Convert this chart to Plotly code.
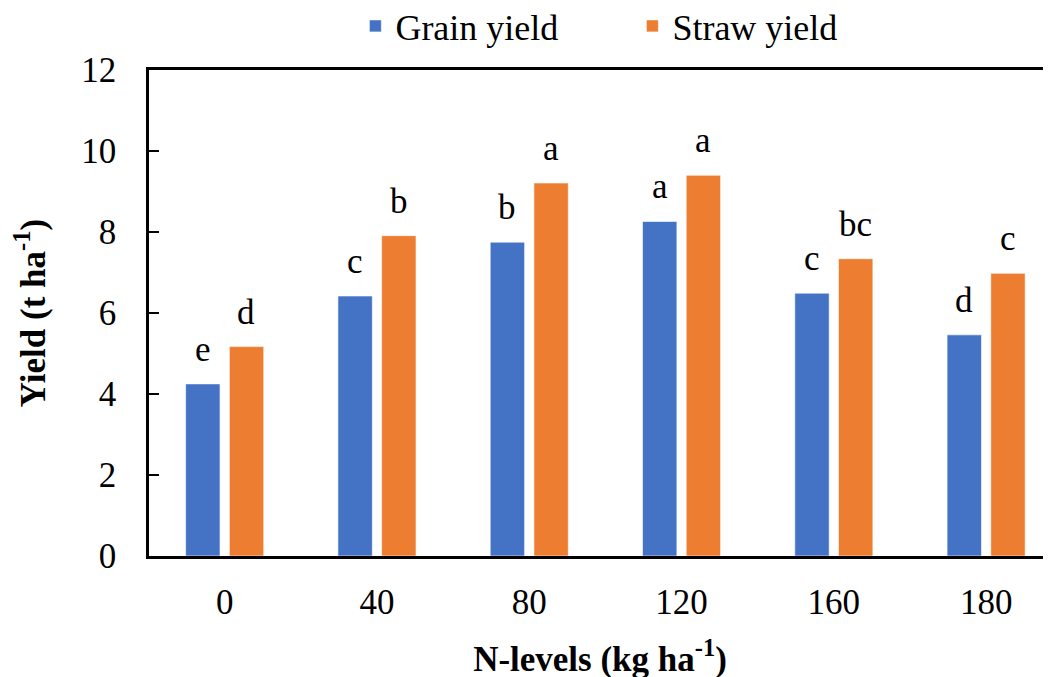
import plotly.graph_objects as go

n_levels = ["0", "40", "80", "120", "160", "180"]
grain_yield = [4.25, 6.42, 7.75, 8.26, 6.49, 5.46]
straw_yield = [5.17, 7.91, 9.21, 9.40, 7.34, 6.98]
grain_letters = ["e", "c", "b", "a", "c", "d"]
straw_letters = ["d", "b", "a", "a", "bc", "c"]
y_ticks = [0, 2, 4, 6, 8, 10, 12]

FONT = "Liberation Serif, Times New Roman, serif"
FS = 35
BLUE = "#4472C4"
ORANGE = "#ED7D31"

fig = go.Figure()
fig.add_trace(go.Bar(x=n_levels, y=grain_yield, name="Grain yield",
                     marker=dict(color=BLUE, line=dict(color="rgba(255,255,255,0.6)", width=1))))
fig.add_trace(go.Bar(x=n_levels, y=straw_yield, name="Straw yield",
                     marker=dict(color=ORANGE, line=dict(color="rgba(255,255,255,0.6)", width=1))))

annotations = []
for i, (v, t) in enumerate(zip(grain_yield, grain_letters)):
    annotations.append(dict(x=i, y=v, xref="x", yref="y", text=t, showarrow=False,
                            xshift=-21.8, yshift=13, yanchor="bottom",
                            font=dict(family=FONT, size=FS, color="black")))
for i, (v, t) in enumerate(zip(straw_yield, straw_letters)):
    annotations.append(dict(x=i, y=v, xref="x", yref="y", text=t, showarrow=False,
                            xshift=21.8, yshift=13, yanchor="bottom",
                            font=dict(family=FONT, size=FS, color="black")))

fig.update_layout(
    width=1051, height=677,
    margin=dict(l=141, r=8, t=62, b=129, autoexpand=False),
    paper_bgcolor="white", plot_bgcolor="white",
    barmode="group", bargap=0.426, bargroupgap=0.213,
    font=dict(family=FONT, size=FS, color="black"),
    legend=dict(orientation="h", x=0.2288, xanchor="left", yref="container",
                y=1 - 18 / 677, yanchor="middle", entrywidth=232,
                font=dict(family=FONT, size=36), bgcolor="rgba(0,0,0,0)"),
    annotations=annotations,
)
fig.update_xaxes(
    type="category", range=[-0.497, 5.426], automargin=False,
    showline=True, linecolor="black", linewidth=2.5, mirror=True,
    ticks="", showgrid=False, ticklabelstandoff=13,
    tickfont=dict(family=FONT, size=FS),
    title=dict(text="<b>N-levels (kg ha<sup>-1</sup>)</b>", standoff=26,
               font=dict(family=FONT, size=FS)),
)
fig.update_yaxes(
    range=[0, 12], tickvals=y_ticks, automargin=False,
    showline=True, linecolor="black", linewidth=2.5, mirror=False,
    ticks="inside", ticklen=10, tickwidth=1.5, tickcolor="black",
    showgrid=False, zeroline=False, ticklabelstandoff=23,
    tickfont=dict(family=FONT, size=FS),
    title=dict(text="<b>Yield (t ha<sup>-1</sup>)</b>", standoff=36,
               font=dict(family=FONT, size=FS)),
)

fig.write_html("out.html")
